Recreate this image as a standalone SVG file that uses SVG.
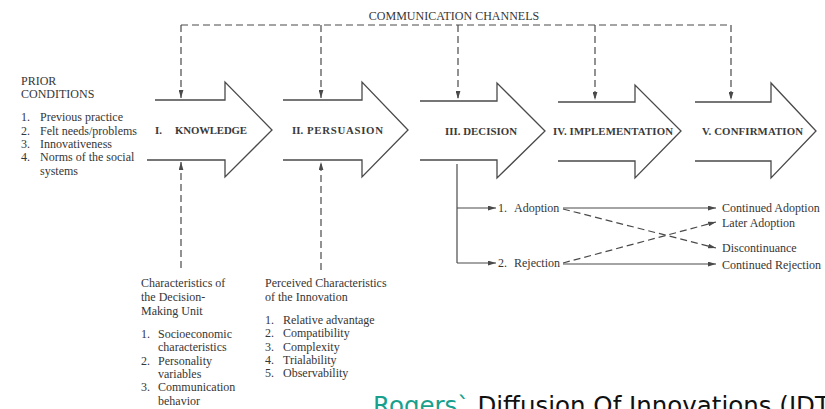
<svg xmlns="http://www.w3.org/2000/svg" width="825" height="409" viewBox="0 0 825 409">
  <defs>
    <style>
      .t { font-family: "Liberation Serif", "Times New Roman", serif; font-size: 12px; fill: #363636; }
      .stage { font-family: "Liberation Serif", "Times New Roman", serif; font-size: 10.8px; font-weight: bold; fill: #3a3a3a; }
      .shape { fill: none; stroke: #4a4a4a; stroke-width: 1.3; stroke-linejoin: miter; }
      .solid { fill: none; stroke: #4a4a4a; stroke-width: 1.2; }
      .dash { fill: none; stroke: #4a4a4a; stroke-width: 1.2; stroke-dasharray: 7 4; }
      .cap { font-family: "DejaVu Sans", Verdana, sans-serif; font-size: 24.5px; }
    </style>
    <marker id="head" viewBox="0 0 10 6" refX="10" refY="3" markerWidth="8" markerHeight="5" markerUnits="userSpaceOnUse" orient="auto">
      <path d="M0,0 L10,3 L0,6 Z" fill="#4a4a4a"/>
    </marker>
  </defs>

  <rect width="825" height="409" fill="#ffffff"/>

  <!-- connectors -->
  <g id="connectors">
    <!-- communication channels bus -->
    <path class="dash" d="M181,25 H731"/>
    <path class="dash" d="M181,25 V98" marker-end="url(#head)"/>
    <path class="dash" d="M321,25 V98" marker-end="url(#head)"/>
    <path class="dash" d="M458,25 V99" marker-end="url(#head)"/>
    <path class="dash" d="M595,25 V100" marker-end="url(#head)"/>
    <path class="dash" d="M731,25 V100" marker-end="url(#head)"/>
    <!-- characteristics feeding knowledge and persuasion -->
    <path class="dash" d="M181,268 V162" marker-end="url(#head)"/>
    <path class="dash" d="M321,270 V162" marker-end="url(#head)"/>
    <!-- decision outcomes -->
    <path class="solid" d="M457,164 V263"/>
    <path class="solid" d="M457,208 H496" marker-end="url(#head)"/>
    <path class="solid" d="M457,263 H496" marker-end="url(#head)"/>
    <path class="solid" d="M563,208 H716" marker-end="url(#head)"/>
    <path class="solid" d="M563,264 H716" marker-end="url(#head)"/>
    <path class="dash" d="M563,209 L716,248" marker-end="url(#head)"/>
    <path class="dash" d="M563,263 L716,222" marker-end="url(#head)"/>
  </g>

  <text class="t" x="454" y="20" text-anchor="middle">COMMUNICATION CHANNELS</text>

  <g id="prior-conditions">
    <text class="t" x="21" y="85">PRIOR</text>
    <text class="t" x="21" y="98">CONDITIONS</text>
    <text class="t" x="21" y="121">1.</text><text class="t" x="40" y="121">Previous practice</text>
    <text class="t" x="21" y="134.5">2.</text><text class="t" x="40" y="134.5">Felt needs/problems</text>
    <text class="t" x="21" y="148">3.</text><text class="t" x="40" y="148">Innovativeness</text>
    <text class="t" x="21" y="161">4.</text><text class="t" x="40" y="161">Norms of the social</text>
    <text class="t" x="40" y="174.5">systems</text>
  </g>

  <g id="knowledge">
    <path class="shape" d="M155,100 H225 V82 L272,130 L225,177 V160 H147"/>
    <text class="stage" x="155" y="134">I.</text>
    <text class="stage" x="175" y="134" textLength="72" lengthAdjust="spacing">KNOWLEDGE</text>
  </g>

  <g id="persuasion">
    <path class="shape" d="M283,100 H362 V82 L408,130 L362,177 V160 H283"/>
    <text class="stage" x="292" y="134">II.</text>
    <text class="stage" x="307" y="134" textLength="76" lengthAdjust="spacing">PERSUASION</text>
  </g>

  <g id="decision">
    <path class="shape" d="M420,101 H497 V83 L545,131 L497,178 V160 H420"/>
    <text class="stage" x="445" y="135" textLength="72" lengthAdjust="spacing">III. DECISION</text>
  </g>

  <g id="implementation">
    <path class="shape" d="M558,102 H635 V85 L681,131 L635,178 V161 H558"/>
    <text class="stage" x="553" y="135" textLength="120" lengthAdjust="spacing">IV. IMPLEMENTATION</text>
  </g>

  <g id="confirmation">
    <path class="shape" d="M695,102 H771 V83 L816,131 L771,178 V161 H695"/>
    <text class="stage" x="702" y="135" textLength="101" lengthAdjust="spacing">V. CONFIRMATION</text>
  </g>

  <g id="adoption">
    <text class="t" x="498" y="212">1.</text><text class="t" x="514" y="212">Adoption</text>
  </g>
  <g id="rejection">
    <text class="t" x="498" y="267">2.</text><text class="t" x="514" y="267">Rejection</text>
  </g>

  <g id="continued-adoption"><text class="t" x="722" y="212">Continued Adoption</text></g>
  <g id="later-adoption"><text class="t" x="722" y="227">Later Adoption</text></g>
  <g id="discontinuance"><text class="t" x="722" y="252">Discontinuance</text></g>
  <g id="continued-rejection"><text class="t" x="722" y="269">Continued Rejection</text></g>

  <g id="decision-unit">
    <text class="t" x="141" y="287">Characteristics of</text>
    <text class="t" x="141" y="301">the Decision-</text>
    <text class="t" x="141" y="315">Making Unit</text>
    <text class="t" x="141" y="338">1.</text><text class="t" x="158" y="338">Socioeconomic</text>
    <text class="t" x="158" y="351">characteristics</text>
    <text class="t" x="141" y="364.5">2.</text><text class="t" x="158" y="364.5">Personality</text>
    <text class="t" x="158" y="378">variables</text>
    <text class="t" x="141" y="391">3.</text><text class="t" x="158" y="391">Communication</text>
    <text class="t" x="158" y="405">behavior</text>
  </g>

  <g id="innovation">
    <text class="t" x="265" y="287">Perceived Characteristics</text>
    <text class="t" x="265" y="301">of the Innovation</text>
    <text class="t" x="265" y="324">1.</text><text class="t" x="283" y="324">Relative advantage</text>
    <text class="t" x="265" y="337">2.</text><text class="t" x="283" y="337">Compatibility</text>
    <text class="t" x="265" y="350.5">3.</text><text class="t" x="283" y="350.5">Complexity</text>
    <text class="t" x="265" y="363.5">4.</text><text class="t" x="283" y="363.5">Trialability</text>
    <text class="t" x="265" y="377">5.</text><text class="t" x="283" y="377">Observability</text>
  </g>

  <text class="cap" x="373" y="414"><tspan fill="#18a08c">Rogers`</tspan><tspan fill="#111111"> Diffusion Of Innovations (IDT)</tspan></text>
</svg>
